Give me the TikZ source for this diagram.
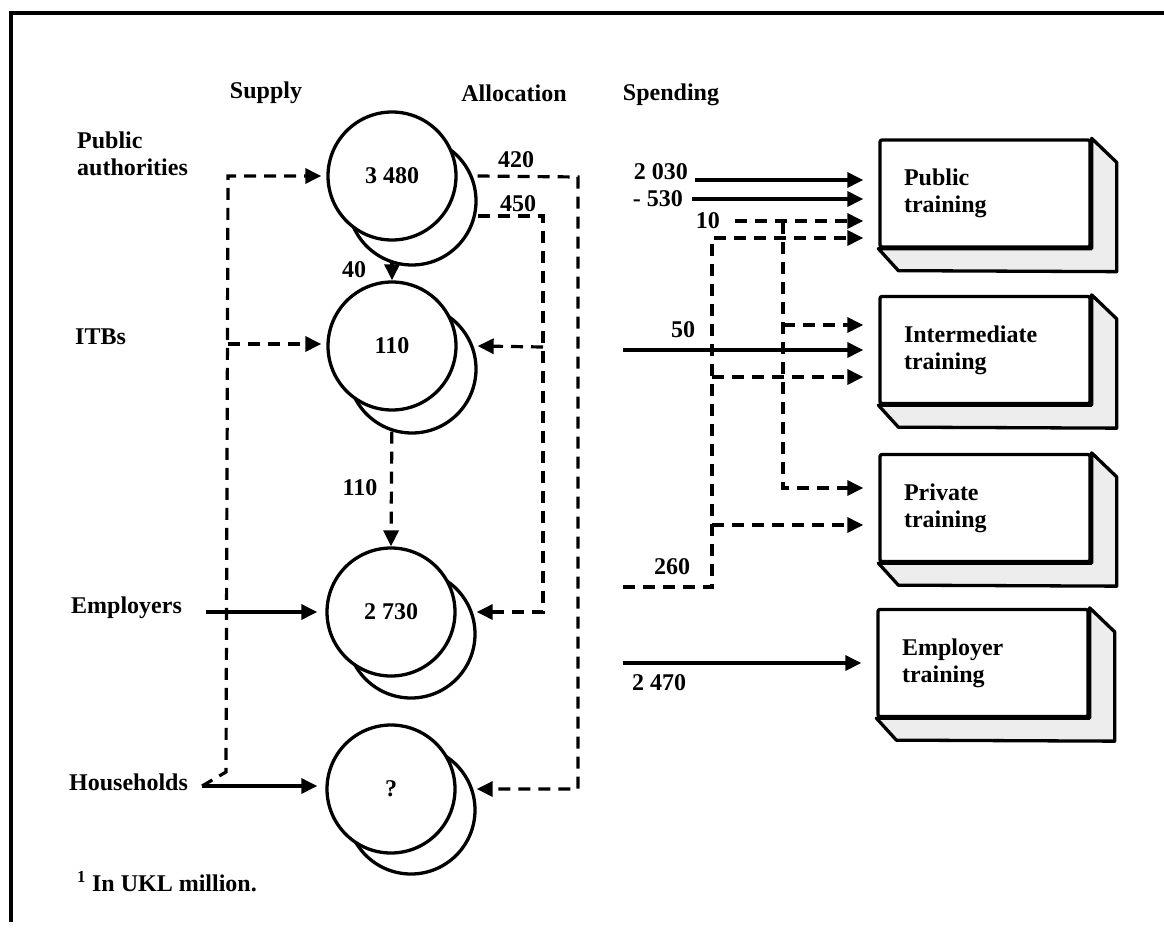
\documentclass[tikz,border=0pt]{standalone}
\usepackage{fontspec}
\setmainfont{Liberation Serif}
\usetikzlibrary{arrows.meta,shapes.geometric,backgrounds,calc}
\begin{document}
\begin{tikzpicture}[x=1pt,y=-1pt,
  lbl/.style={font=\fontsize{24}{27}\selectfont\bfseries, inner sep=0pt},
  circ/.style={circle, draw, line width=3.3pt, fill=white, minimum size=128pt, inner sep=0pt, font=\fontsize{24}{27}\selectfont\bfseries},
  shad/.style={circle, draw, line width=3.3pt, fill=white, minimum size=128pt, inner sep=0pt},
  box/.style={draw, line width=3.3pt, fill=white, rounded corners=2pt, minimum width=210pt, minimum height=107pt, text width=162pt, inner xsep=24pt, align=left, font=\fontsize{24}{27}\selectfont\bfseries},
  ext/.style={draw, line width=3.3pt, fill=gray!14, line join=round},
  arr/.style={-{Triangle[length=16pt,width=15pt]}, line width=3.2pt},
  dsh/.style={line width=3.2pt, dash pattern=on 12pt off 8pt},
  tobox/.style={shorten >=15pt}]
\useasboundingbox (0,0) rectangle (1164,928);
% frame
\draw[line width=3.5pt] (11,922) -- (11,13) -- (1164,13);

% headers
\node[lbl] (hsup) at (266,93) {Supply};
\node[lbl] (halloc) at (514,93) {Allocation};
\node[lbl] (hspend) at (671,95) {Spending};

% supply labels
\node[lbl, anchor=north west, align=left] (pa) at (77,132) {Public\\authorities};
\node[lbl, anchor=west] (itb) at (75,337) {ITBs};
\node[lbl, anchor=west] (emp) at (71,608) {Employers};
\node[lbl, anchor=west] (hh) at (69,782) {Households};
\node[lbl, anchor=west] (foot) at (77,882) {\textsuperscript{1}\ In UKL million.};

% circles: shadows first
\node[shad] (s1) at (412,201) {};
\node[circ] (c1) at (392,176) {3 480};
\node[shad] (s2) at (412,369) {};
\node[circ] (c2) at (392,346) {110};
\node[shad] (s3) at (411,634) {};
\node[circ] (c3) at (391,612) {2 730};
\node[shad] (s4) at (411,810) {};
\node[circ] (c4) at (391,789) {?};

% boxes
\node[box] (b1) at (985,193.5) {Public\\training};
\node[box] (b2) at (985,350) {Intermediate\\training};
\node[box] (b3) at (985,508) {Private\\training};
\node[box] (b4) at (983,663) {Employer\\training};
\foreach \b in {b1,b2,b3,b4}{
  \filldraw[ext] (\b.north east) -- ([shift={(25,24)}]\b.north east) -- ([shift={(25,23)}]\b.south east) -- ([shift={(20,22)}]\b.south west) -- (\b.south west) -- (\b.south east) -- cycle;
}

% value labels
\node[lbl] (v40) at (354,270) {40};
\node[lbl] (v110) at (360,488) {110};
\node[lbl] (v420) at (516,160) {420};
\node[lbl] (v450) at (518,204) {450};
\node[lbl, anchor=base east] (v2030) at (688,180) {2 030};
\node[lbl, anchor=east] (v530) at (683,199) {- 530};
\node[lbl, anchor=east] (v10) at (720,221) {10};
\node[lbl] (v50) at (683,330) {50};
\node[lbl] (v260) at (672,567) {260};
\node[lbl] (v2470) at (659,683) {2 470};

% coordinates
\coordinate (es) at (206,612);
\coordinate (hs) at (202,786);
\coordinate (y216) at (0,216);
\coordinate (j1) at (783,222);
\coordinate (j2) at (783,325);
\coordinate (j3) at (783,488);
\coordinate (k1) at (712,238);
\coordinate (k2) at (712,377);
\coordinate (k3) at (712,525);
\coordinate (k4) at (712,587);
\coordinate (s260) at (623,587);
\coordinate (s50) at (623,350);
\coordinate (s2470) at (623,663);

\begin{pgfonlayer}{background}
% supply
\draw[arr, shorten >=8pt] (es) -- (c3.west |- es);
\draw[arr, shorten >=8pt] (hs) -- (c4.west |- hs);
\draw[dsh, arr, shorten >=5pt] (hs) -- (226,772) -- (228,176) -- (c1.west);
\draw[dsh, arr, shorten >=5pt] (228,344) -- (c2.west |- 228,344);
% allocation
\draw[arr] (c1.south) -- (c2.north);
\draw[dsh, arr] (c2.south) -- (c3.north);
\draw[dsh, arr] (s1.east |- c1.center) -- (578,177) -- (578,789) -- (s4.east |- c4.center);
\draw[dsh, arr] (s1.east |- y216) -- (543,216) -- (543,612) -- (s3.east |- c3.center);
\draw[dsh, arr] (543,347) -- (s2.east |- c2.center);
% spending
\draw[arr, tobox] ([xshift=7pt]v2030.base east) -- (b1.west |- v2030.base east);
\draw[arr, tobox] ([xshift=9pt]v530.east) -- (b1.west |- v530.east);
\draw[dsh, arr, tobox] ([xshift=15pt]v10.east) -- (b1.west |- v10.east);
\draw[dsh, arr, tobox] (j1) -- (j3) -- (b3.west |- j3);
\draw[dsh, arr, tobox] (j2) -- (b2.west |- j2);
\draw[dsh, arr, tobox] (s260) -- (k4) -- (k1) -- (b1.west |- k1);
\draw[dsh, arr, tobox] (k2) -- (b2.west |- k2);
\draw[dsh, arr, tobox] (k3) -- (b3.west |- k3);
\draw[arr, tobox] (s50) -- (b2.west |- s50);
\draw[arr, tobox] (s2470) -- (b4.west |- s2470);
\end{pgfonlayer}
\end{tikzpicture}
\end{document}
